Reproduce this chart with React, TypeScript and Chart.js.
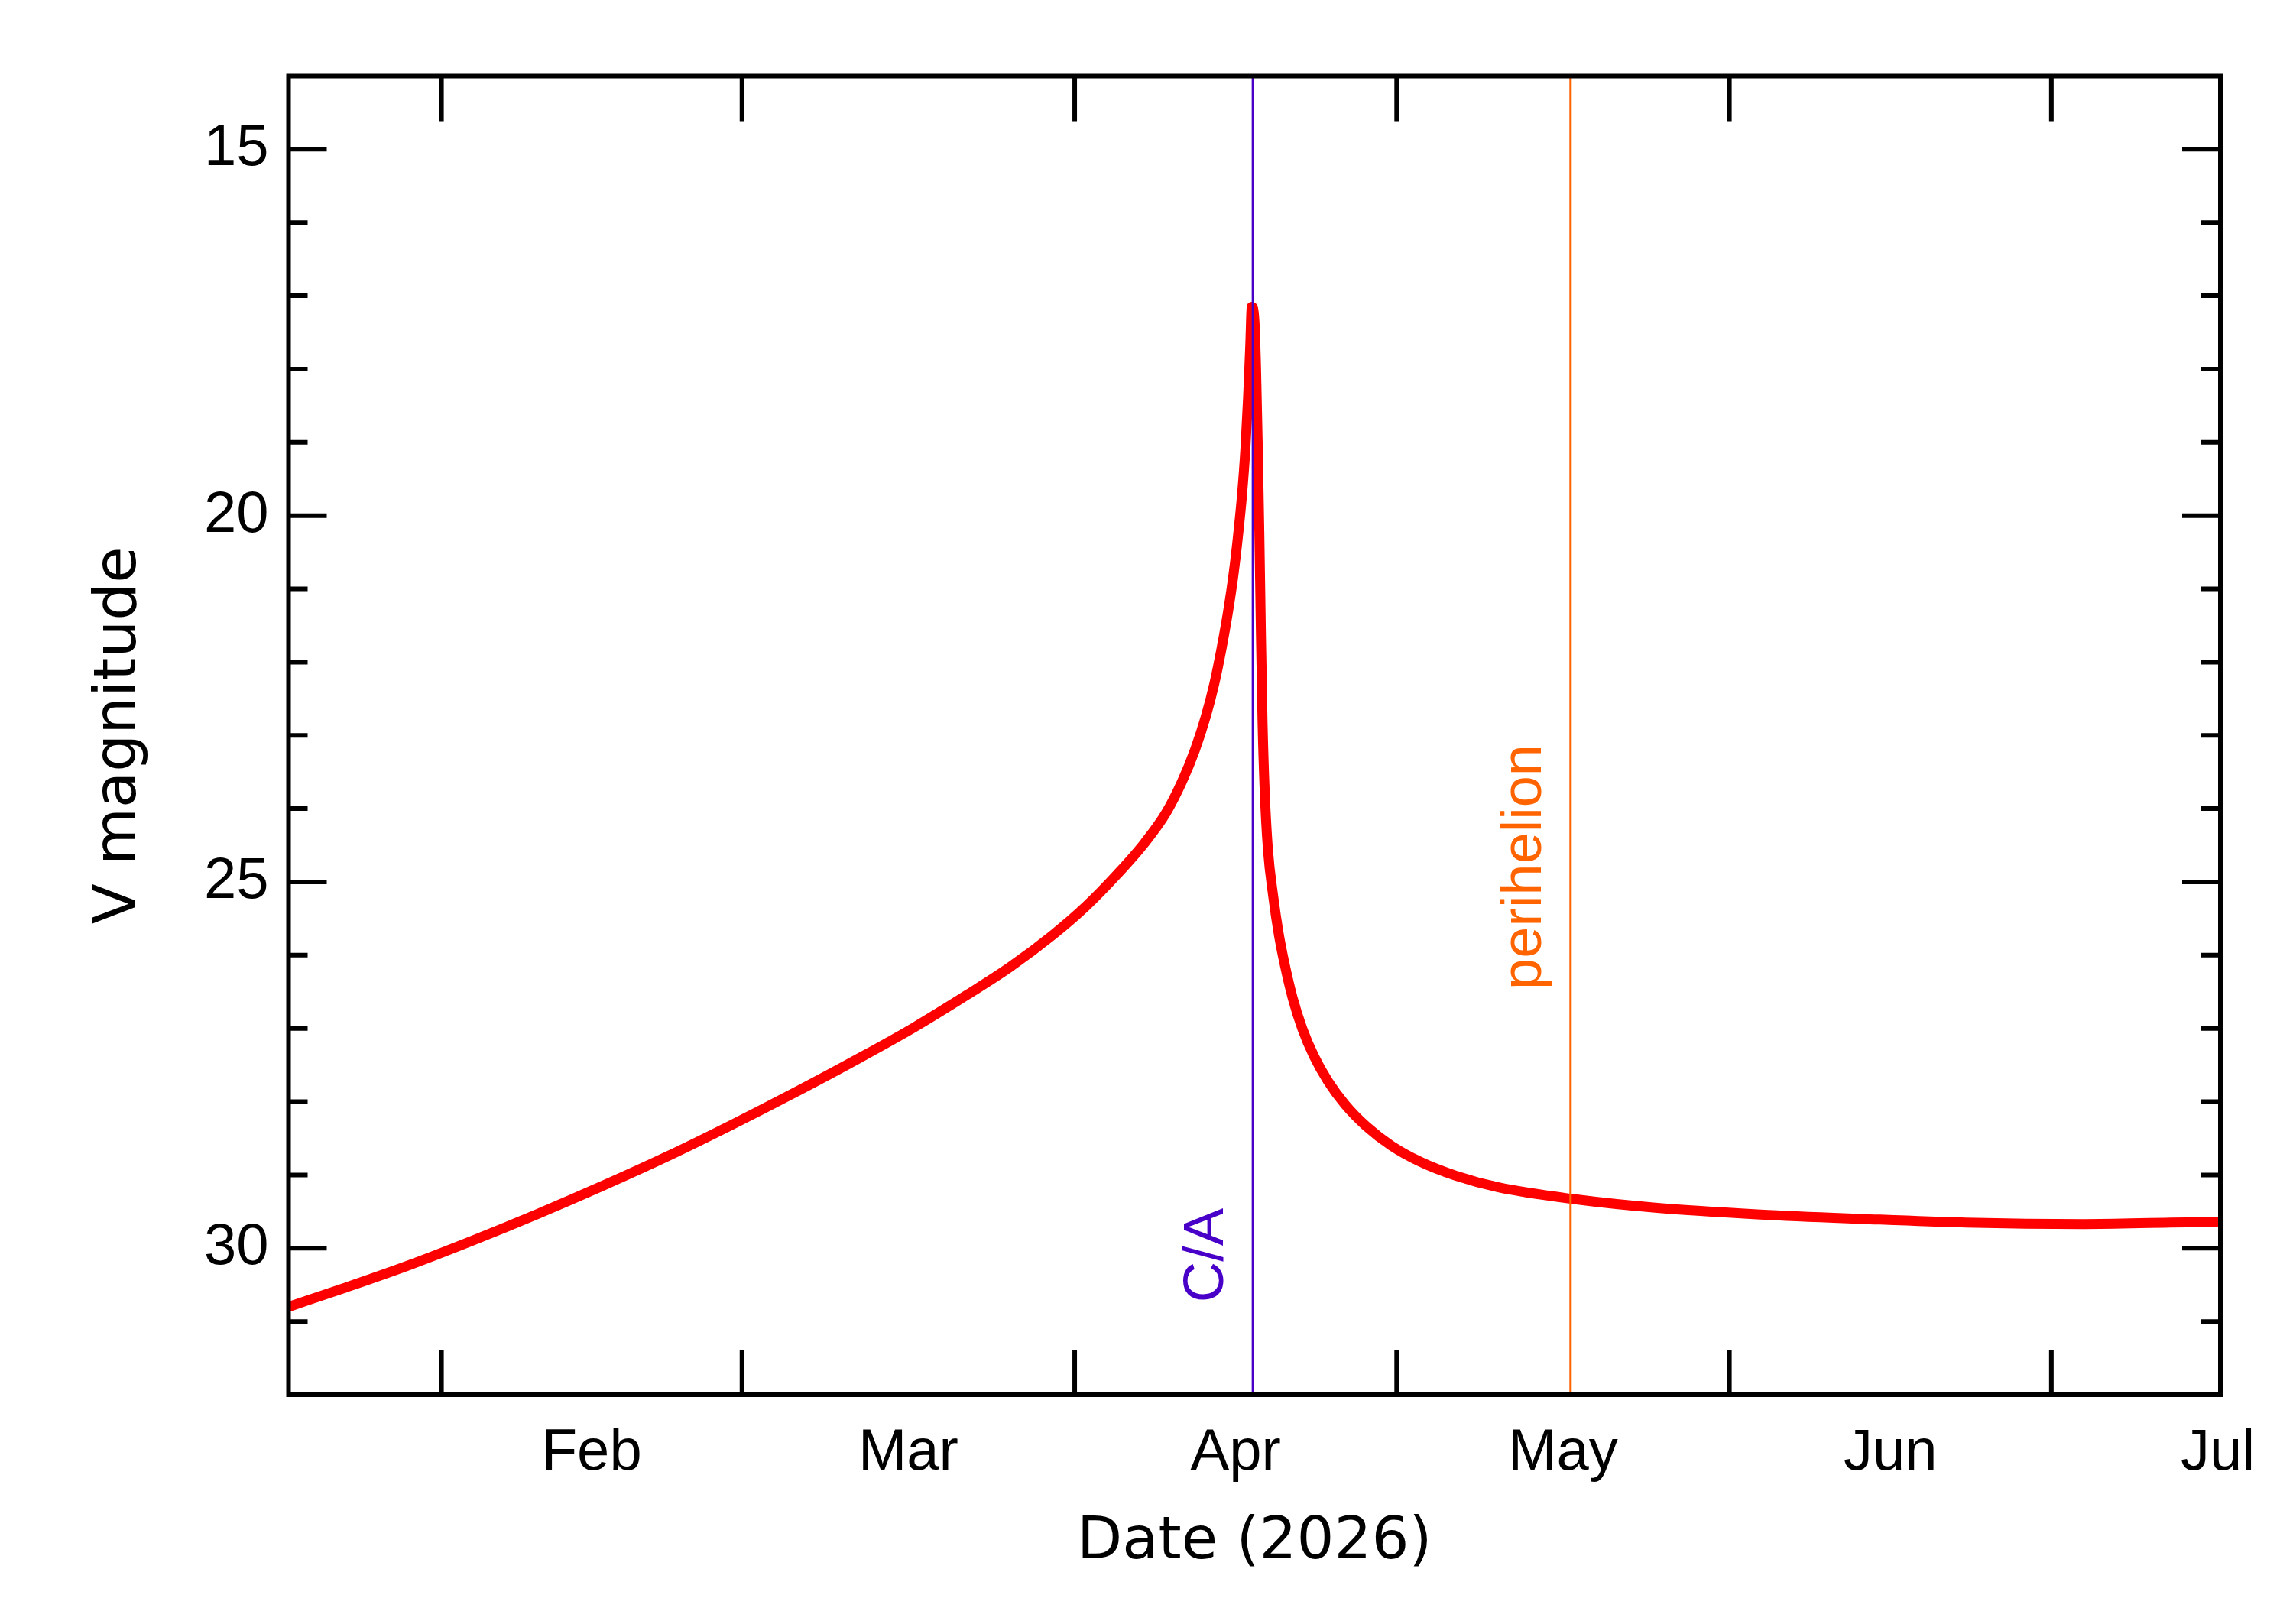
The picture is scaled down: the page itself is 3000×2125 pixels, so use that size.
import { useEffect, useRef } from "react";
import { Chart, registerables } from "chart.js";

Chart.register(...registerables);

// x values are days since 2026-01-01 00:00 (Feb 1 = 31)
const X_MIN = 16.75;
const X_MAX = 196.75;

const MONTH_LABELS = ["Feb", "Mar", "Apr", "May", "Jun", "Jul"];
// month boundaries: Feb 1 ... Aug 1; names sit mid-month, tick marks at month starts
const MONTH_BOUNDS = [31, 59, 90, 120, 151, 181, 212];

const Y_MIN = 14;
const Y_MAX = 32;

const DAYS = [
  16.75, 22, 28, 34, 40, 46, 52, 58, 64, 70, 75, 80, 84, 88, 91, 94, 96.5, 98.5, 100, 101.2,
  102.2, 103, 103.7, 104.3, 104.8, 105.2, 105.6, 105.9, 106.15, 106.35, 106.5, 106.75, 106.9,
  107.05, 107.2, 107.35, 107.5, 107.7, 108, 108.5, 109, 109.6, 110.3, 111.2, 112.3, 113.6,
  115.2, 117.2, 119.5, 122.2, 125.5, 129.5, 136.5, 144.3, 153.9, 163.4, 173, 184, 192.1,
  196.75,
];
const V_MAG = [
  30.8, 30.54, 30.23, 29.89, 29.53, 29.15, 28.75, 28.32, 27.87, 27.4, 26.99, 26.54, 26.16,
  25.72, 25.34, 24.89, 24.47, 24.06, 23.63, 23.2, 22.75, 22.3, 21.8, 21.3, 20.8, 20.3, 19.7,
  19.1, 18.4, 17.7, 17.15, 17.35, 18.0, 19.0, 20.2, 21.6, 22.8, 23.75, 24.55, 25.2, 25.7,
  26.15, 26.58, 27.0, 27.38, 27.72, 28.04, 28.34, 28.6, 28.82, 29.01, 29.17, 29.33, 29.45,
  29.54, 29.6, 29.65, 29.67, 29.65, 29.64,
];

// event markers: day, label, colour, magnitude where the rotated label starts
const MARKER_DAYS = [106.6, 136.2];
const MARKER_TEXT = ["C/A", "perihelion"];
const MARKER_COLORS = ["#4800c8", "#ff6400"];
const MARKER_LABEL_MAG = [30.74, 26.47];

const TICK_FONT = { family: '"Liberation Sans", Arial, sans-serif', size: 76 };
const TITLE_FONT = { family: '"DejaVu Sans", sans-serif', size: 77 };

const framePlugin = {
  id: "idlFrame",
  afterDatasetsDraw(chart: any) {
    const { ctx, chartArea: a, scales } = chart;
    const xs = scales.x;
    const ys = scales.y;
    ctx.save();

    // vertical event lines and labels
    MARKER_DAYS.forEach((d, i) => {
      const px = xs.getPixelForValue(d);
      ctx.strokeStyle = MARKER_COLORS[i];
      ctx.lineWidth = 3;
      ctx.beginPath();
      ctx.moveTo(px, a.top);
      ctx.lineTo(px, a.bottom);
      ctx.stroke();

      ctx.save();
      ctx.translate(px - 39, ys.getPixelForValue(MARKER_LABEL_MAG[i]));
      ctx.rotate(-Math.PI / 2);
      ctx.fillStyle = MARKER_COLORS[i];
      ctx.font = '74px "Liberation Sans", Arial, sans-serif';
      ctx.textAlign = "left";
      ctx.textBaseline = "alphabetic";
      ctx.fillText(MARKER_TEXT[i], 0, 0);
      ctx.restore();
    });

    // inward ticks on all four sides
    ctx.strokeStyle = "#000";
    ctx.lineWidth = 6;
    ctx.lineCap = "butt";
    ctx.beginPath();
    ys.ticks.forEach((t: any) => {
      if (t.value <= Y_MIN || t.value >= Y_MAX) return;
      const py = ys.getPixelForValue(t.value);
      const len = t.value % 5 === 0 ? 50 : 25;
      ctx.moveTo(a.left, py);
      ctx.lineTo(a.left + len, py);
      ctx.moveTo(a.right - len, py);
      ctx.lineTo(a.right, py);
    });
    MONTH_BOUNDS.forEach((d) => {
      if (d <= X_MIN || d >= X_MAX) return;
      const px = xs.getPixelForValue(d);
      ctx.moveTo(px, a.top);
      ctx.lineTo(px, a.top + 59);
      ctx.moveTo(px, a.bottom - 59);
      ctx.lineTo(px, a.bottom);
    });
    ctx.stroke();

    ctx.lineJoin = "miter";
    ctx.strokeRect(a.left, a.top, a.right - a.left, a.bottom - a.top);
    ctx.restore();
  },
};

function MagnitudeChart() {
  const canvasRef = useRef<HTMLCanvasElement>(null);
  const chartRef = useRef<Chart | null>(null);

  useEffect(() => {
    if (!canvasRef.current) return;
    const ctx = canvasRef.current.getContext("2d");
    if (!ctx) return;

    const points = DAYS.map((d, i) => ({ x: d, y: V_MAG[i] }));
    const labelDays = MONTH_LABELS.map((_, i) => (MONTH_BOUNDS[i] + MONTH_BOUNDS[i + 1]) / 2);

    chartRef.current?.destroy();
    chartRef.current = new Chart(ctx, {
      type: "line",
      data: {
        datasets: [
          {
            data: points,
            borderColor: "#ff0000",
            borderWidth: 13,
            borderJoinStyle: "round",
            pointRadius: 0,
            fill: false,
            cubicInterpolationMode: "monotone",
            clip: 0,
          },
        ],
      },
      options: {
        animation: false,
        responsive: true,
        maintainAspectRatio: false,
        layout: { padding: { top: 99.5, right: 95, bottom: 0, left: 0 } },
        plugins: { legend: { display: false }, tooltip: { enabled: false } },
        scales: {
          x: {
            type: "linear",
            min: X_MIN,
            max: X_MAX,
            grid: { display: false, drawTicks: false },
            border: { display: false },
            afterBuildTicks: (s: any) => {
              s.ticks = labelDays.filter((v) => v >= X_MIN && v <= X_MAX).map((v) => ({ value: v }));
            },
            afterFit: (s: any) => {
              s.height = 300;
            },
            ticks: {
              autoSkip: false,
              maxRotation: 0,
              minRotation: 0,
              padding: 31,
              color: "#000",
              font: TICK_FONT,
              callback: (v: any) => {
                const i = labelDays.indexOf(Number(v));
                return i >= 0 ? MONTH_LABELS[i] : "";
              },
            },
            title: {
              display: true,
              text: "Date (2026)",
              color: "#000",
              font: TITLE_FONT,
              padding: { top: 0, bottom: 60 },
            },
          },
          y: {
            reverse: true,
            min: Y_MIN,
            max: Y_MAX,
            grid: { display: false, drawTicks: false },
            border: { display: false },
            afterFit: (s: any) => {
              s.width = 377.5;
            },
            ticks: {
              stepSize: 1,
              maxTicksLimit: 100,
              padding: 26,
              color: "#000",
              font: TICK_FONT,
              callback: (v: any) => (Number(v) % 5 === 0 ? String(v) : ""),
            },
            title: {
              display: true,
              text: "V magnitude",
              color: "#000",
              font: TITLE_FONT,
              padding: { top: 111, bottom: 0 },
            },
          },
        },
      },
      plugins: [framePlugin],
    });

    return () => {
      chartRef.current?.destroy();
      chartRef.current = null;
    };
  }, []);

  return (
    <div style={{ position: "fixed", left: 0, top: 0, width: 3000, height: 2125, background: "#fff" }}>
      <canvas ref={canvasRef} />
    </div>
  );
}

export default function App() {
  return <MagnitudeChart />;
}
